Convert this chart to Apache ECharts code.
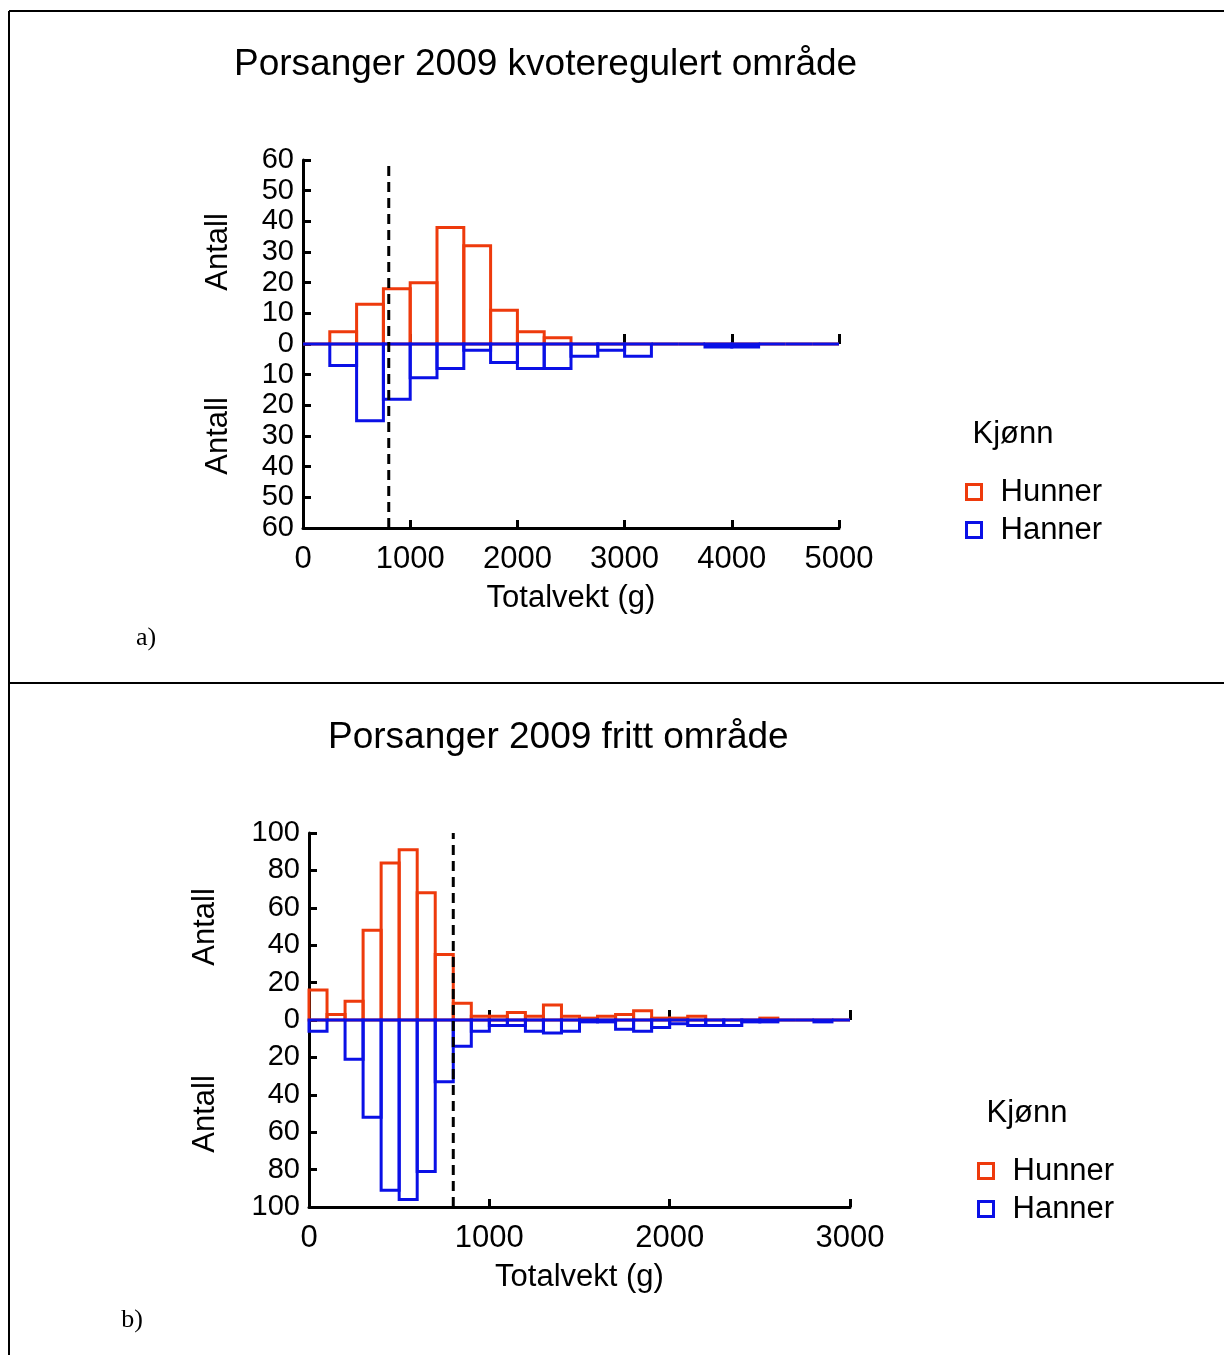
<!DOCTYPE html>
<html>
<head>
<meta charset="utf-8">
<script src="https://cdn.jsdelivr.net/npm/echarts@6/dist/echarts.min.js"></script>
<style>
  html, body { margin: 0; padding: 0; background: #fff; }
  #chart { width: 1224px; height: 1355px; }
</style>
</head>
<body>
<div id="chart"></div>
<script>
// panel a: kvoteregulert område, 250 g klasser
var edgesA = [0, 250, 500, 750, 1000, 1250, 1500, 1750, 2000, 2250, 2500, 2750, 3000, 3250, 3500, 3750, 4000, 4250, 4500, 4750, 5000]
var hunnerA = [0, 4, 13, 18, 20, 38, 32, 11, 4, 2, 0, 0, 0, 0, 0, 0, 0, 0, 0, 0]
var hannerA = [0, 7, 25, 18, 11, 8, 2, 6, 8, 8, 4, 2, 4, 0, 0, 1, 1, 0, 0, 0]
var yTicksA = [-60, 60, 10]
var xTicksA = [0, 5000, 1000]

// panel b: fritt område, 100 g klasser
var edgesB = [0, 100, 200, 300, 400, 500, 600, 700, 800, 900, 1000, 1100, 1200, 1300, 1400, 1500, 1600, 1700, 1800, 1900, 2000, 2100, 2200, 2300, 2400, 2500, 2600, 2700, 2800, 2900, 3000]
var hunnerB = [16, 3, 10, 48, 84, 91, 68, 35, 9, 2, 2, 4, 2, 8, 2, 1, 2, 3, 5, 1, 1, 2, 0, 0, 0, 1, 0, 0, 0, 0]
var hannerB = [6, 0, 21, 52, 91, 96, 81, 33, 14, 6, 3, 3, 6, 7, 6, 1, 1, 5, 6, 4, 2, 3, 3, 3, 1, 1, 0, 0, 1, 0]
var yTicksB = [-100, 100, 20]
var xTicksB = [0, 3000, 1000]

var minstemal = 800

var RED = '#ee3a0c'
var BLUE = '#0a10e6'
var FONT = '"Liberation Sans", Arial, sans-serif'
var FS = 31

function bins(edges, counts, sign) {
  return counts.map(function (c, i) { return [edges[i], edges[i + 1], sign * c] })
}

function histItem(color) {
  return function (params, api) {
    var p0 = api.coord([api.value(0), 0])
    var p1 = api.coord([api.value(1), api.value(2)])
    return {
      type: 'rect',
      shape: { x: p0[0], y: Math.min(p0[1], p1[1]), width: p1[0] - p0[0], height: Math.abs(p1[1] - p0[1]) },
      style: { fill: 'none', stroke: color, lineWidth: 3 }
    }
  }
}

function histSeries(name, color, data, idx) {
  return {
    name: name,
    type: 'custom',
    xAxisIndex: idx * 2,
    yAxisIndex: idx,
    itemStyle: { color: color },
    encode: { x: [0, 1], y: 2 },
    renderItem: histItem(color),
    data: data,
    clip: false,
    silent: true
  }
}

function dashSeries(idx, yr) {
  return {
    type: 'line',
    xAxisIndex: idx * 2,
    yAxisIndex: idx,
    symbol: 'none',
    silent: true,
    lineStyle: { color: '#000', width: 3, type: [10, 6] },
    data: [[minstemal, yr[0]], [minstemal, yr[1]]],
    z: 3
  }
}

function xAxes(idx, ticks) {
  var base = {
    type: 'value', gridIndex: idx, min: ticks[0], max: ticks[1], interval: ticks[2],
    splitLine: { show: false }
  }
  return [
    Object.assign({}, base, {
      position: 'bottom',
      name: 'Totalvekt (g)',
      nameLocation: 'middle',
      nameGap: 55,
      nameTextStyle: { fontSize: FS, color: '#000', fontFamily: FONT },
      axisLine: { onZero: false, lineStyle: { color: '#000', width: 3 } },
      axisTick: { inside: true, length: 8, lineStyle: { color: '#000', width: 3 } },
      axisLabel: {
        fontSize: FS, color: '#000', fontFamily: FONT, margin: 16,
        showMinLabel: true, showMaxLabel: true,
        formatter: function (v) { return String(v) }
      }
    }),
    Object.assign({}, base, {
      position: 'top',
      axisLine: { show: false, onZero: true },
      axisTick: { inside: false, length: 10, lineStyle: { color: '#000', width: 3 } },
      axisLabel: { show: false }
    })
  ]
}

function yAxis(idx, ticks) {
  return {
    type: 'value', gridIndex: idx, min: ticks[0], max: ticks[1], interval: ticks[2],
    splitLine: { show: false },
    axisLine: { show: true, lineStyle: { color: '#000', width: 3 } },
    axisTick: { show: true, inside: true, length: 8, lineStyle: { color: '#000', width: 3 } },
    axisLabel: {
      fontSize: 29, color: '#000', fontFamily: FONT, margin: 9,
      showMinLabel: true, showMaxLabel: true, hideOverlap: false,
      formatter: function (v) { return String(Math.abs(v)) }
    }
  }
}

function legend(left, top) {
  return {
    orient: 'vertical',
    left: left,
    top: top,
    itemWidth: 15,
    itemHeight: 15,
    itemGap: 6,
    selectedMode: false,
    icon: 'rect',
    textStyle: { fontSize: FS, color: '#000', fontFamily: FONT, lineHeight: 32, padding: [0, 0, 0, 14] },
    data: [
      { name: 'Hunner', itemStyle: { color: '#fff', borderColor: RED, borderWidth: 3 } },
      { name: 'Hanner', itemStyle: { color: '#fff', borderColor: BLUE, borderWidth: 3 } }
    ]
  }
}

function txt(x, y, s, opts) {
  return Object.assign({
    type: 'text', x: x, y: y,
    style: { text: s, fill: '#000', font: FS + 'px ' + FONT, textAlign: 'center', textVerticalAlign: 'middle' }
  }, opts || {})
}

function antall(x, y) {
  return txt(x, y, 'Antall', { rotation: Math.PI / 2 })
}

function serif(x, y, s) {
  return txt(x, y, s, { style: { text: s, fill: '#000', font: '26px "Liberation Serif", "Times New Roman", serif', textAlign: 'center', textVerticalAlign: 'middle' } })
}

function hline(x1, y, x2) {
  return { type: 'line', shape: { x1: x1, y1: y, x2: x2, y2: y }, style: { stroke: '#000', lineWidth: 2 } }
}

var chart = echarts.init(document.getElementById('chart'), null, { renderer: 'canvas' })

chart.setOption({
  animation: false,
  backgroundColor: '#fff',
  title: [
    { text: 'Porsanger 2009 kvoteregulert område', left: 229, top: 41, textStyle: { fontSize: 37, fontWeight: 'normal', color: '#000', fontFamily: FONT } },
    { text: 'Porsanger 2009 fritt område', left: 323, top: 714, textStyle: { fontSize: 37, fontWeight: 'normal', color: '#000', fontFamily: FONT } }
  ],
  grid: [
    { left: 303, top: 160, width: 536, height: 368 },
    { left: 309, top: 833, width: 541, height: 374 }
  ],
  xAxis: xAxes(0, xTicksA).concat(xAxes(1, xTicksB)),
  yAxis: [yAxis(0, yTicksA), yAxis(1, yTicksB)],
  legend: [legend(960, 471), legend(972, 1150)],
  series: [
    histSeries('Hunner', RED, bins(edgesA, hunnerA, 1), 0),
    histSeries('Hanner', BLUE, bins(edgesA, hannerA, -1), 0),
    dashSeries(0, [yTicksA[0], yTicksA[1]]),
    histSeries('Hunner', RED, bins(edgesB, hunnerB, 1), 1),
    histSeries('Hanner', BLUE, bins(edgesB, hannerB, -1), 1),
    dashSeries(1, [yTicksB[0], yTicksB[1]])
  ],
  graphic: [
    hline(9, 11, 1224),
    hline(9, 683, 1224),
    { type: 'line', shape: { x1: 9, y1: 11, x2: 9, y2: 1355 }, style: { stroke: '#000', lineWidth: 2 } },
    antall(218, 252), antall(218, 436),
    antall(205, 927), antall(205, 1114),
    txt(1013, 434, 'Kjønn'),
    txt(1027, 1113, 'Kjønn'),
    serif(146, 638, 'a)'),
    serif(132, 1320, 'b)')
  ]
})
</script>
</body>
</html>
